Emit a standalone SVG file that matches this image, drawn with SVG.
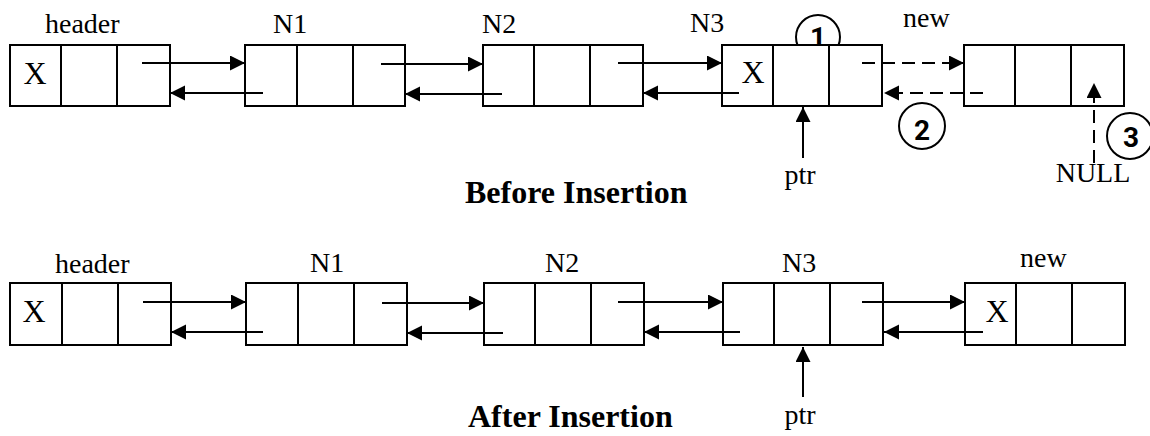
<svg xmlns="http://www.w3.org/2000/svg" width="1150" height="436" viewBox="0 0 1150 436">
<style>
.box{fill:#fff;stroke:#000;stroke-width:2}
.div{stroke:#000;stroke-width:2}
.lbl{font-family:"Liberation Serif","Times New Roman",serif;font-size:28px;fill:#000}
.x{font-family:"Liberation Serif","Times New Roman",serif;font-size:32px;fill:#000}
.title{font-family:"Liberation Serif","Times New Roman",serif;font-size:32px;font-weight:bold;fill:#000}
.num{font-family:Roboto,"Liberation Sans",Arial,sans-serif;font-size:28px;font-weight:bold;fill:#000;text-anchor:middle}
.circ{fill:#fff;stroke:#000;stroke-width:2}
.ar{stroke:#000;stroke-width:2;fill:none;marker-end:url(#ah)}
.dash{stroke-dasharray:13 7}
</style>
<defs>
<marker id="ah" markerUnits="userSpaceOnUse" markerWidth="16" markerHeight="16" refX="15" refY="7.5" orient="auto">
<path d="M0,0 L15,7.5 L0,15 z" fill="#000" stroke="none"/>
</marker>
</defs>

<!-- circles behind boxes -->
<g id="step1">
<circle class="circ" cx="818" cy="37" r="22"/>
<text class="num" x="818" y="47">1</text>
</g>

<!-- Before insertion -->
<g id="t-header">
<text class="lbl" x="45" y="33">header</text>
<rect class="box" x="10" y="45" width="160" height="61"/>
<line class="div" x1="61" y1="45" x2="61" y2="106"/>
<line class="div" x1="117" y1="45" x2="117" y2="106"/>
<text class="x" x="35" y="84" text-anchor="middle">X</text>
</g>
<g id="t-N1">
<text class="lbl" x="273" y="33">N1</text>
<rect class="box" x="245" y="45" width="160" height="61"/>
<line class="div" x1="297" y1="45" x2="297" y2="106"/>
<line class="div" x1="353" y1="45" x2="353" y2="106"/>
</g>
<g id="t-N2">
<text class="lbl" x="482" y="33">N2</text>
<rect class="box" x="483" y="45" width="160" height="61"/>
<line class="div" x1="534" y1="45" x2="534" y2="106"/>
<line class="div" x1="590" y1="45" x2="590" y2="106"/>
</g>
<g id="t-N3">
<text class="lbl" x="690" y="32">N3</text>
<rect class="box" x="722" y="45" width="160" height="61"/>
<line class="div" x1="773" y1="45" x2="773" y2="106"/>
<line class="div" x1="829" y1="45" x2="829" y2="106"/>
<text class="x" x="753" y="83" text-anchor="middle">X</text>
</g>
<g id="t-new">
<text class="lbl" x="903" y="27">new</text>
<rect class="box" x="964" y="45" width="160" height="61"/>
<line class="div" x1="1015" y1="45" x2="1015" y2="106"/>
<line class="div" x1="1071" y1="45" x2="1071" y2="106"/>
</g>
<g id="t-ptr">
<text class="lbl" x="800" y="184" text-anchor="middle">ptr</text>
</g>
<g id="t-null">
<text class="lbl" x="1093" y="182" text-anchor="middle">NULL</text>
</g>
<g id="step2">
<circle class="circ" cx="922" cy="126" r="23"/>
<text class="num" x="922" y="140">2</text>
</g>
<g id="step3">
<circle class="circ" cx="1130" cy="136" r="23"/>
<text class="num" x="1131" y="147">3</text>
</g>
<text class="title" x="465" y="203">Before Insertion</text>

<!-- After insertion -->
<g id="b-header">
<text class="lbl" x="55" y="273">header</text>
<rect class="box" x="10" y="283" width="161" height="62"/>
<line class="div" x1="62" y1="283" x2="62" y2="345"/>
<line class="div" x1="118" y1="283" x2="118" y2="345"/>
<text class="x" x="34" y="322" text-anchor="middle">X</text>
</g>
<g id="b-N1">
<text class="lbl" x="310" y="272">N1</text>
<rect class="box" x="246" y="283" width="161" height="62"/>
<line class="div" x1="298" y1="283" x2="298" y2="345"/>
<line class="div" x1="354" y1="283" x2="354" y2="345"/>
</g>
<g id="b-N2">
<text class="lbl" x="545" y="272">N2</text>
<rect class="box" x="484" y="283" width="160" height="62"/>
<line class="div" x1="535" y1="283" x2="535" y2="345"/>
<line class="div" x1="591" y1="283" x2="591" y2="345"/>
</g>
<g id="b-N3">
<text class="lbl" x="782" y="272">N3</text>
<rect class="box" x="723" y="283" width="160" height="62"/>
<line class="div" x1="774" y1="283" x2="774" y2="345"/>
<line class="div" x1="830" y1="283" x2="830" y2="345"/>
</g>
<g id="b-new">
<text class="lbl" x="1020" y="267">new</text>
<rect class="box" x="965" y="283" width="160" height="62"/>
<line class="div" x1="1016" y1="283" x2="1016" y2="345"/>
<line class="div" x1="1072" y1="283" x2="1072" y2="345"/>
<text class="x" x="997" y="322" text-anchor="middle">X</text>
</g>
<g id="b-ptr">
<text class="lbl" x="800" y="424" text-anchor="middle">ptr</text>
</g>
<text class="title" x="468" y="427">After Insertion</text>

<g id="connectors">
<!-- top row -->
<line class="ar" x1="142" y1="63" x2="245" y2="63"/>
<line class="ar" x1="263" y1="93" x2="170" y2="93"/>
<line class="ar" x1="381" y1="64" x2="483" y2="64"/>
<line class="ar" x1="502" y1="94" x2="405" y2="94"/>
<line class="ar" x1="618" y1="63" x2="722" y2="63"/>
<line class="ar" x1="739" y1="93" x2="643" y2="93"/>
<line class="ar dash" x1="862" y1="63" x2="964" y2="63"/>
<line class="ar dash" x1="983" y1="93" x2="884" y2="93"/>
<line class="ar" x1="803" y1="158" x2="803" y2="107"/>
<line class="ar dash" x1="1094" y1="163" x2="1094" y2="83"/>
<!-- bottom row -->
<line class="ar" x1="143" y1="302" x2="246" y2="302"/>
<line class="ar" x1="263" y1="332" x2="171" y2="332"/>
<line class="ar" x1="382" y1="303" x2="484" y2="303"/>
<line class="ar" x1="503" y1="333" x2="407" y2="333"/>
<line class="ar" x1="618" y1="302" x2="723" y2="302"/>
<line class="ar" x1="740" y1="332" x2="644" y2="332"/>
<line class="ar" x1="862" y1="302" x2="965" y2="302"/>
<line class="ar" x1="983" y1="332" x2="884" y2="332"/>
<line class="ar" x1="803" y1="397" x2="803" y2="347"/>
</g>
</svg>
